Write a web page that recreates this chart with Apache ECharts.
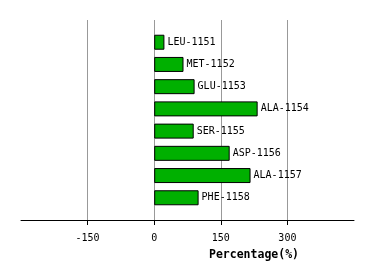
<!DOCTYPE html>
<html><head><meta charset="utf-8">
<script src="https://cdn.jsdelivr.net/npm/echarts@6/dist/echarts.min.js"></script>
<style>html,body{margin:0;padding:0;background:#fff}#c{width:374px;height:280px}</style>
</head><body><div id="c"></div>
<script>
const categories = ['LEU-1151','MET-1152','GLU-1153','ALA-1154','SER-1155','ASP-1156','ALA-1157','PHE-1158'];
const values = [23, 66, 91, 233, 89, 170, 217, 100];
const xTicks = [-300, -150, 0, 150, 300, 450];
const axisName = 'Percentage(%)';

const yData = [''].concat(categories, ['']);
const sData = [null].concat(values, [null]);
const chart = echarts.init(document.getElementById('c'));
chart.setOption({
  animation: false,
  grid: {left: 21, top: 20, width: 333, height: 200, containLabel: false},
  xAxis: {
    type: 'value', min: xTicks[0], max: xTicks[xTicks.length-1], interval: 150,
    axisLine: {show: true, onZero: false, lineStyle: {color: '#000', width: 1}},
    axisTick: {show: true, length: 5, lineStyle: {color: '#000'}},
    axisLabel: {showMinLabel: false, showMaxLabel: false, color: '#000', fontFamily: 'DejaVu Sans Mono', fontSize: 10, margin: 13},
    splitLine: {show: true, lineStyle: {color: ['transparent','#999','#999','#999','#999','transparent'], width: 1}}
  },
  yAxis: {
    type: 'category', data: yData, inverse: true, boundaryGap: false,
    axisLine: {show: false}, axisTick: {show: false}, axisLabel: {show: false}, splitLine: {show: false}
  },
  graphic: [{
    type: 'text', left: 209, top: 249,
    style: {text: axisName, fontFamily: 'DejaVu Sans Mono', fontWeight: 'bold', fontSize: 11.5, fill: '#000'}
  }],
  series: [{
    type: 'bar', data: sData, barWidth: 15,
    itemStyle: {color: '#00b000', borderColor: '#000', borderWidth: 1},
    label: {show: true, position: 'right', distance: 3, color: '#000', fontFamily: 'DejaVu Sans Mono', fontSize: 10,
      formatter: p => yData[p.dataIndex]}
  }]
});
</script></body></html>
